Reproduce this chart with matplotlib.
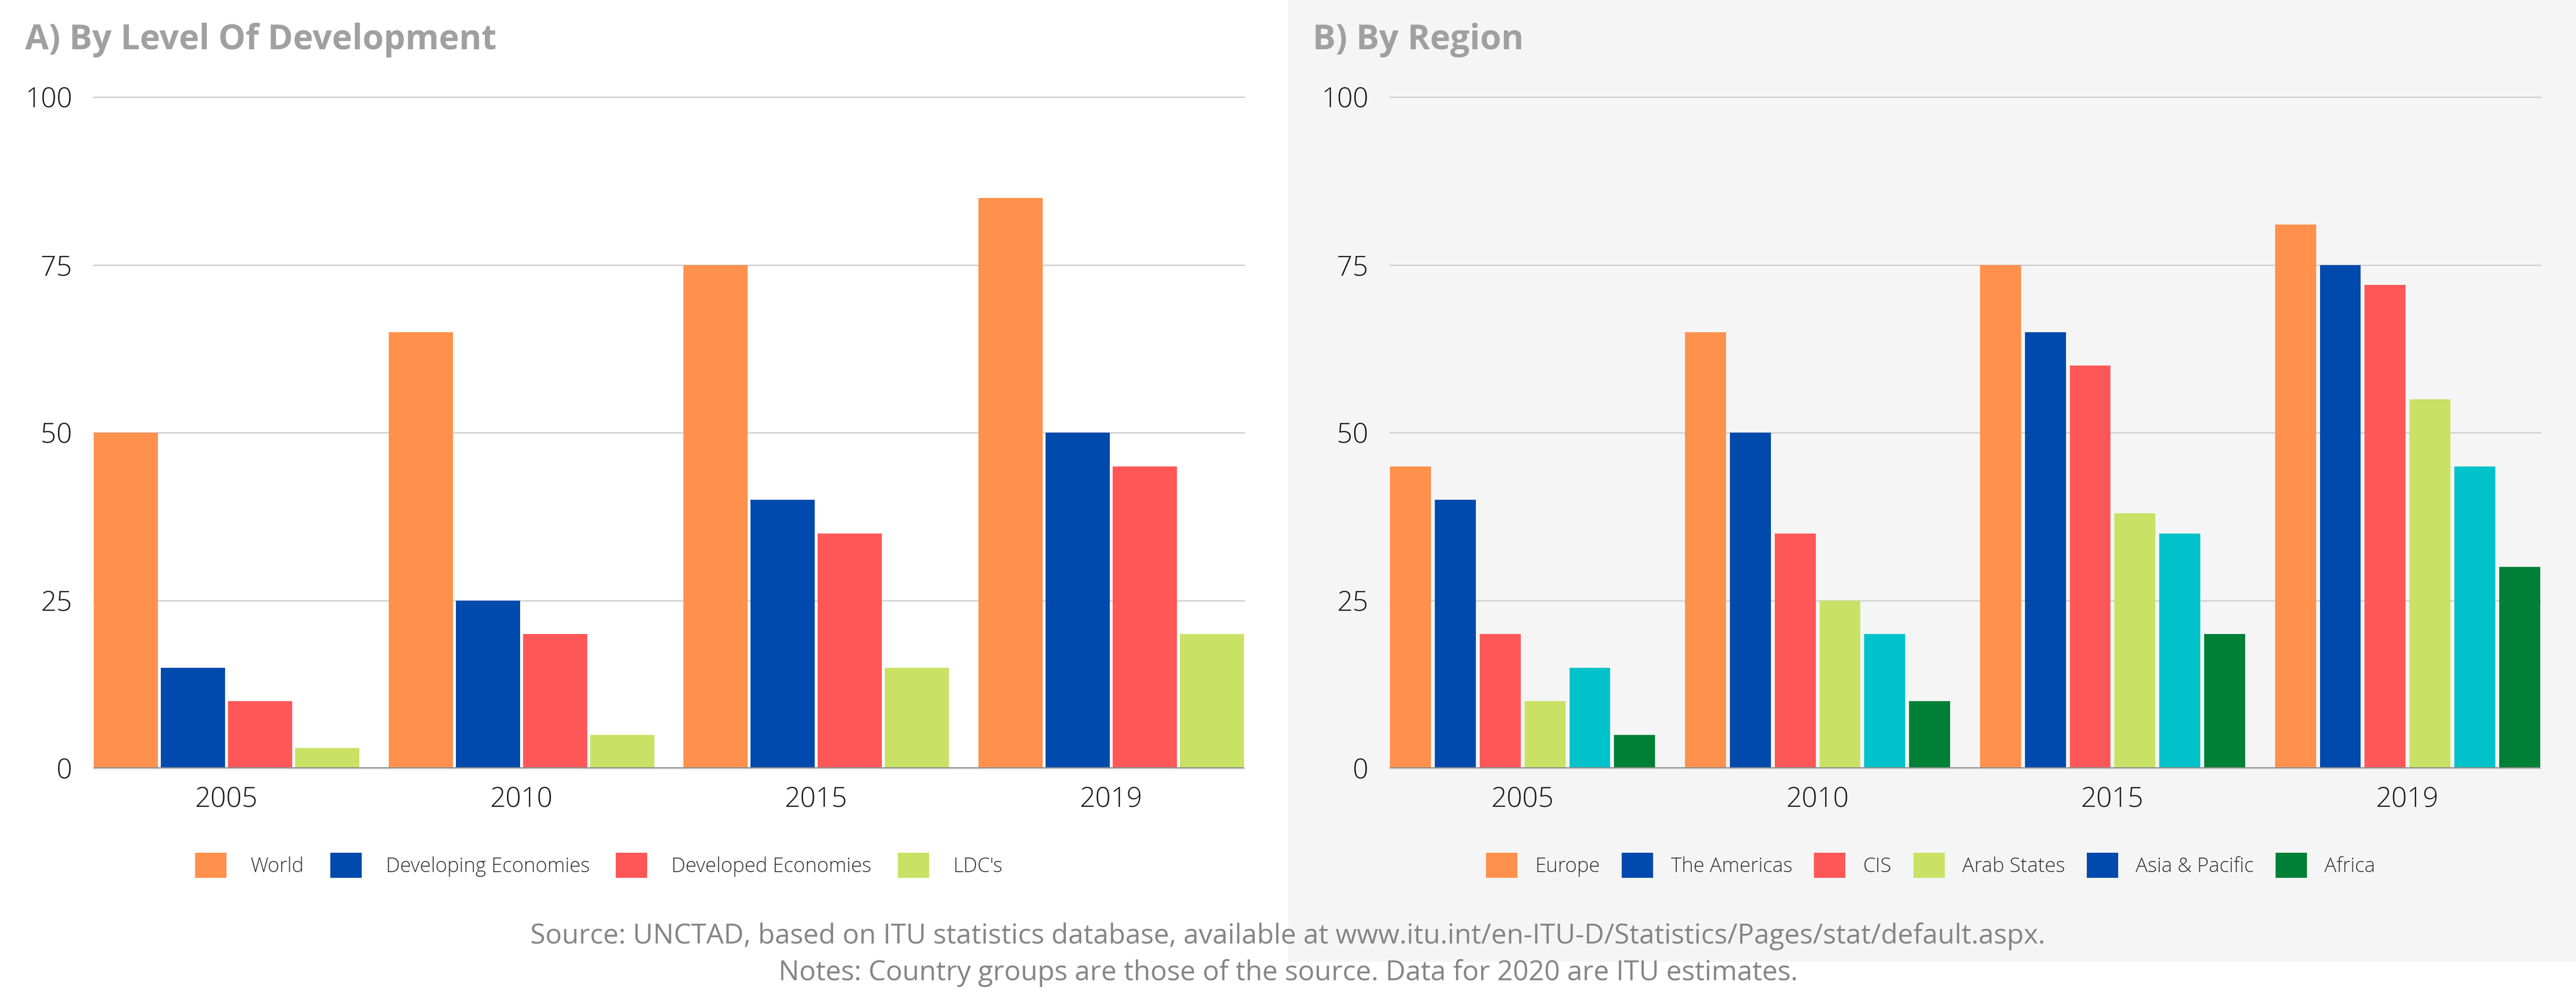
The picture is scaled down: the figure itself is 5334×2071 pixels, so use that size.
import matplotlib
matplotlib.use("Agg")
import matplotlib.pyplot as plt
from matplotlib.patches import Patch, Rectangle
import numpy as np

years = ["2005", "2010", "2015", "2019"]

# panel A
dev_labels = ["World", "Developing Economies", "Developed Economies", "LDC's"]
world = [50, 65, 75, 85]
developing = [15, 25, 40, 50]
developed = [10, 20, 35, 45]
ldc = [3, 5, 15, 20]

# panel B
reg_labels = ["Europe", "The Americas", "CIS", "Arab States", "Asia & Pacific", "Africa"]
europe = [45, 65, 75, 81]
americas = [40, 50, 65, 75]
cis = [20, 35, 60, 72]
arab = [10, 25, 38, 55]
asia = [15, 20, 35, 45]
africa = [5, 10, 20, 30]

yticks = [0, 25, 50, 75, 100]

ORANGE = "#FF914D"
BLUE = "#004AAD"
RED = "#FF5757"
LIME = "#C9E265"
CYAN = "#00C2CB"
GREEN = "#008037"

dev_colors = [ORANGE, BLUE, RED, LIME]
reg_colors = [ORANGE, BLUE, RED, LIME, CYAN, GREEN]
reg_legend_colors = [ORANGE, BLUE, RED, LIME, BLUE, GREEN]  # legend shows blue for Asia & Pacific

W, H = 5334, 2071
fig = plt.figure(figsize=(W / 100, H / 100), dpi=100)
fig.patch.set_facecolor("white")

PANEL = "#F5F5F5"
fig.patches.append(Rectangle((2667 / W, (H - 1992) / H), 1 - 2667 / W, 1992 / H,
                             transform=fig.transFigure, facecolor=PANEL,
                             edgecolor="none", zorder=-10))

FONT = "Open Sans"


def draw(ax, series, colors, step, width):
    n = len(series)
    x = np.arange(len(years))
    for i, (vals, c) in enumerate(zip(series, colors)):
        off = (i - (n - 1) / 2) * step
        ax.bar(x + off, vals, width=width, color=c, zorder=2, linewidth=0)
    ax.set_xlim(-0.45, 3.45)
    ax.set_ylim(0, 100)
    ax.set_yticks(yticks)
    ax.set_yticklabels([str(t) for t in yticks], fontfamily=FONT,
                       fontweight="light", fontsize=41, color="#1A1A1A")
    ax.set_xticks(x)
    ax.set_xticklabels(years, fontfamily=FONT, fontweight="light",
                       fontsize=41, color="#1A1A1A")
    ax.tick_params(axis="y", length=0, pad=32)
    ax.tick_params(axis="x", length=0, pad=27)
    for s in ax.spines.values():
        s.set_visible(False)
    ax.yaxis.grid(True, color="#D3D3D3", linewidth=2.2, zorder=1)
    ax.set_axisbelow(True)
    for gl in ax.get_ygridlines():
        gl.set_clip_on(False)
    ax.axhline(0, color="#8C8C8C", linewidth=3, zorder=3)


axL = fig.add_axes([194 / W, (H - 1591) / H, 2382 / W, 1390 / H])
axL.set_facecolor("none")
axL.set_zorder(2)
draw(axL, [world, developing, developed, ldc], dev_colors, 0.2275, 0.2177)

axR = fig.add_axes([2878 / W, (H - 1591) / H, 2382 / W, 1390 / H])
axR.set_facecolor("none")
axR.set_zorder(2)
draw(axR, [europe, americas, cis, arab, asia, africa], reg_colors, 0.1519, 0.139)

# titles
fig.text(52 / W, (H - 102) / H, "A) By Level Of Development", fontfamily=FONT,
         fontweight="bold", fontsize=51, color="#A0A0A0", va="baseline")
fig.text(2718 / W, (H - 102) / H, "B) By Region", fontfamily=FONT,
         fontweight="bold", fontsize=51, color="#A0A0A0", va="baseline")

# legends
legL = [Patch(facecolor=c, edgecolor="none", label=l) for c, l in zip(dev_colors, dev_labels)]
fig.legend(handles=legL, loc="center", bbox_to_anchor=(1240 / W, (H - 1792) / H),
           ncol=4, frameon=False, prop={"family": FONT, "weight": "light", "size": 30},
           labelcolor="#333333", handlelength=1.56, handleheight=1.53,
           handletextpad=1.2, columnspacing=1.3)

legR = [Patch(facecolor=c, edgecolor="none", label=l) for c, l in zip(reg_legend_colors, reg_labels)]
fig.legend(handles=legR, loc="center", bbox_to_anchor=(3998 / W, (H - 1792) / H),
           ncol=6, frameon=False, prop={"family": FONT, "weight": "light", "size": 30},
           labelcolor="#333333", handlelength=1.56, handleheight=1.53,
           handletextpad=0.87, columnspacing=1.08)

# source notes
fig.text(0.5, (H - 1954) / H,
         "Source: UNCTAD, based on ITU statistics database, available at www.itu.int/en-ITU-D/Statistics/Pages/stat/default.aspx.",
         fontfamily=FONT, fontsize=41, color="#858585", ha="center", va="baseline")
fig.text(0.5, (H - 2030) / H,
         "Notes: Country groups are those of the source. Data for 2020 are ITU estimates.",
         fontfamily=FONT, fontsize=41, color="#858585", ha="center", va="baseline")

fig.savefig("out.png", dpi=100, facecolor="white")
